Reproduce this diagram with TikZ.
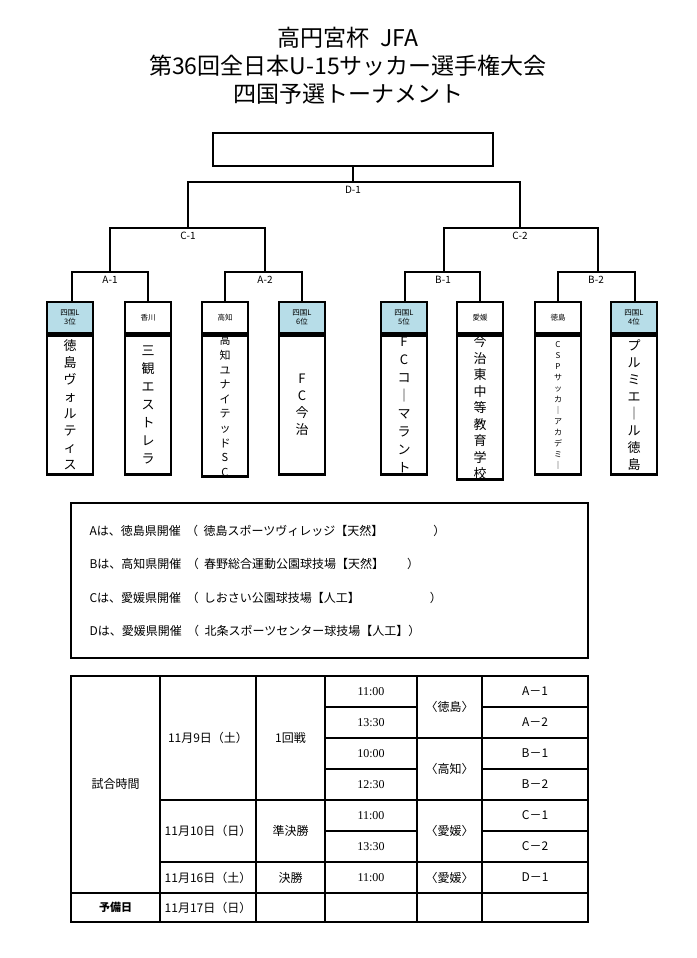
\documentclass[tikz,border=0pt]{standalone}
\usepackage{fontspec}
\setmainfont{Noto Sans CJK JP}
\newfontfamily\jpserif{Liberation Serif}
\definecolor{hdrblue}{RGB}{183,221,232}
\begin{document}
\begin{tikzpicture}[x=1pt,y=-1pt,
  br/.style={line width=1.4pt},
  thick box/.style={draw,line width=2.6pt},
  hdr/.style={draw,line width=2.6pt,fill=hdrblue},
  lbl/.style={font=\fontsize{10}{10}\selectfont},
  cell/.style={font=\fontsize{12}{12}\selectfont},
]
\useasboundingbox (0,0) rectangle (696,958);
\fill[white] (0,0) rectangle (696,958);
% title
\node[font=\fontsize{23}{23}\selectfont] (t1) at (348,38) {高円宮杯\ \ JFA};
\node[font=\fontsize{23}{23}\selectfont] (t2) at (348,66) {第36回全日本U-15サッカー選手権大会};
\node[font=\fontsize{23}{23}\selectfont] (t3) at (348,94) {四国予選トーナメント};
\node[draw,line width=2.4pt,minimum width=280pt,minimum height=33pt] (win) at (353,149.5) {};
% bracket coordinates
\coordinate (d) at (353,182);
\draw[br] (win.south) -- (d);
\draw[br] (188,228) |- (520,182) -- (520,228);
\node[lbl] (dl) at (353,190) {D-1};
\draw[br] (110,272) |- (265,228) -- (265,272);
\draw[br] (444,272) |- (598,228) -- (598,272);
\node[lbl] (c1) at (188,236) {C-1};
\node[lbl] (c2) at (520,236) {C-2};
\draw[br] (72,302) |- (148,272) -- (148,302);
\draw[br] (225,302) |- (302,272) -- (302,302);
\draw[br] (405,302) |- (480,272) -- (480,302);
\draw[br] (558,302) |- (635,272) -- (635,302);
\node[lbl] (a1) at (110,280) {A-1};
\node[lbl] (a2) at (265,280) {A-2};
\node[lbl] (b1) at (443,280) {B-1};
\node[lbl] (b2) at (596,280) {B-2};
% team boxes
\def\teambox#1#2#3#4#5#6{%
  \node[#3,minimum width=46pt,minimum height=31pt,inner sep=0pt,font=\fontsize{7.5}{9}\selectfont,align=center] (h#1) at (#2,317.5) {#4};
  \node[thick box,minimum width=46pt,minimum height=139pt,inner sep=0pt,anchor=north,align=center,font=#5] (b#1) at (h#1.south) {#6};
}
\teambox{1}{70}{hdr}{四国L\\3位}{\fontsize{13}{17}\selectfont}{徳\\島\\ヴ\\ォ\\ル\\テ\\ィ\\ス}
\teambox{2}{148}{thick box}{香川}{\fontsize{13}{18}\selectfont}{三\\観\\エ\\ス\\ト\\レ\\ラ}
\teambox{3}{225}{thick box}{高知}{\fontsize{11}{14.6}\selectfont}{高\\知\\ユ\\ナ\\イ\\テ\\ッ\\ド\\S\\C}
\teambox{4}{302}{hdr}{四国L\\6位}{\fontsize{13}{17}\selectfont}{F\\C\\今\\治}
\teambox{5}{404}{hdr}{四国L\\5位}{\fontsize{13}{18}\selectfont}{F\\C\\コ\\｜\\マ\\ラ\\ン\\ト}
\teambox{6}{480}{thick box}{愛媛}{\fontsize{13}{16.5}\selectfont}{今\\治\\東\\中\\等\\教\\育\\学\\校}
\teambox{7}{558}{thick box}{徳島}{\fontsize{8}{11}\selectfont}{C\\S\\P\\サ\\ッ\\カ\\｜\\ア\\カ\\デ\\ミ\\｜}
\teambox{8}{634}{hdr}{四国L\\4位}{\fontsize{13}{17}\selectfont}{プ\\ル\\ミ\\エ\\｜\\ル\\徳\\島}
% info box
\node[draw,line width=2.4pt,minimum width=517pt,minimum height=155pt] (info) at (329.5,580.5) {};
\begin{scope}[every node/.style={anchor=west,font=\fontsize{12}{12}\selectfont}]
\node (i1) at (86,531) {Aは、徳島県開催\ \ （\ \ 徳島スポーツヴィレッジ【天然】\hspace{50pt}）};
\node (i2) at (86,564) {Bは、高知県開催\ \ （\ \ 春野総合運動公園球技場【天然】\hspace{23pt}）};
\node (i3) at (86,598) {Cは、愛媛県開催\ \ （\ \ しおさい公園球技場【人工】\hspace{70pt}）};
\node (i4) at (86,631) {Dは、愛媛県開催\ \ （\ \ 北条スポーツセンター球技場【人工】）};
\end{scope}
% table
\draw[line width=1.6pt] (71,676) rectangle (588,922);
\draw[line width=1.6pt] (71,893) -- (588,893);
\draw[line width=1.6pt] (160,676) -- (160,922);
\draw[line width=1.6pt] (256,676) -- (256,922);
\draw[line width=1.6pt] (325,676) -- (325,922);
\draw[line width=1.6pt] (417,676) -- (417,922);
\draw[line width=1.6pt] (482,676) -- (482,922);
\draw[line width=1.6pt] (160,800) -- (588,800);
\draw[line width=1.6pt] (160,862) -- (588,862);
\draw[line width=1.6pt] (325,738) -- (588,738);
\foreach \y in {707,769,831} \draw[line width=1.6pt] (325,\y) -- (417,\y) (482,\y) -- (588,\y);
\node[cell] (k) at (115.5,784) {試合時間};
\node[cell,font=\bfseries\fontsize{11}{11}\selectfont] (y) at (115.5,907.5) {予備日};
\node[cell] (d1) at (208,738) {11月9日（土）};
\node[cell] (d2) at (208,831) {11月10日（日）};
\node[cell] (d3) at (208,877.5) {11月16日（土）};
\node[cell] (d4) at (208,907.5) {11月17日（日）};
\node[cell] (r1) at (290.5,738) {1回戦};
\node[cell] (r2) at (290.5,831) {準決勝};
\node[cell] (r3) at (290.5,877.5) {決勝};
\foreach \t/\y [count=\i] in {11:00/691.5,13:30/722.5,10:00/753.5,12:30/784.5,11:00/815.5,13:30/846.5,11:00/877.5}
  \node[cell] (tm\i) at (371,\y) {\jpserif\t};
\node[cell] (p1) at (449.5,707) {〈徳島〉};
\node[cell] (p2) at (449.5,769) {〈高知〉};
\node[cell] (p3) at (449.5,831) {〈愛媛〉};
\node[cell] (p4) at (449.5,877.5) {〈愛媛〉};
\foreach \t/\y [count=\i] in {A－1/691.5,A－2/722.5,B－1/753.5,B－2/784.5,C－1/815.5,C－2/846.5,D－1/877.5}
  \node[cell] (m\i) at (535,\y) {\t};
\end{tikzpicture}
\end{document}
